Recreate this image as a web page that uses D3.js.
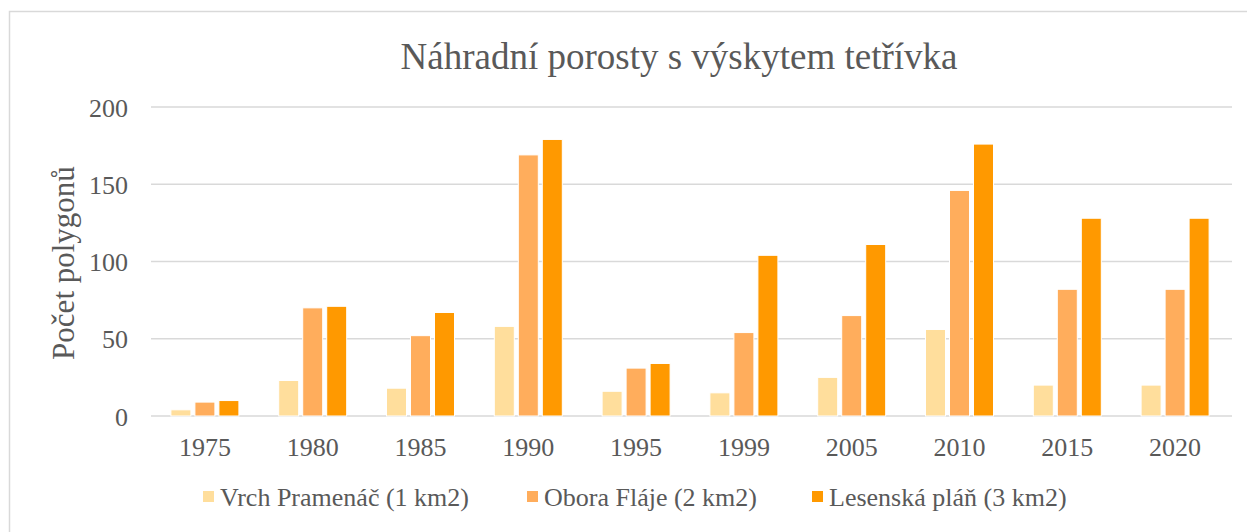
<!DOCTYPE html>
<html>
<head>
<meta charset="utf-8">
<script src="https://cdn.jsdelivr.net/npm/d3@7"></script>
<style>
  html, body { margin: 0; padding: 0; background: #fff; }
  svg { display: block; font-family: "Liberation Serif", "Times New Roman", serif; }
</style>
</head>
<body>
<svg id="chart" width="1247" height="532"></svg>
<script>
// Sledované roky
const years = ["1975", "1980", "1985", "1990", "1995", "1999", "2005", "2010", "2015", "2020"];

// Řady (lokality)
const seriesNames = ["Vrch Pramenáč (1 km2)", "Obora Fláje (2 km2)", "Lesenská pláň (3 km2)"];
const vrchPramenac = [4, 23, 18, 58, 16, 15, 25, 56, 20, 20];
const oboraFlaje   = [9, 70, 52, 169, 31, 54, 65, 146, 82, 82];
const lesenskaPlan = [10, 71, 67, 179, 34, 104, 111, 176, 128, 128];
const seriesValues = [vrchPramenac, oboraFlaje, lesenskaPlan];

const yTicks = [0, 50, 100, 150, 200];
const colors = ["#FFDE9C", "#FFAD5C", "#FF9900"];

const svg = d3.select("#chart");
const textColor = "#595959";

// Rámeček grafu
svg.append("rect")
  .attr("x", 9.5).attr("y", 11.5)
  .attr("width", 1400).attr("height", 600)
  .attr("fill", "none").attr("stroke", "#D9D9D9").attr("stroke-width", 1.5);

// Titulek
svg.append("text")
  .attr("x", 679).attr("y", 69)
  .attr("text-anchor", "middle")
  .attr("font-size", 37)
  .attr("fill", textColor)
  .text("Náhradní porosty s výskytem tetřívka");

const plotLeft = 151, plotRight = 1229;
const x0 = d3.scaleBand().domain(years).range([plotLeft, plotRight]).padding(0);
const x1 = d3.scaleBand().domain(seriesNames).range([-36, 36]);
const y = d3.scaleLinear().domain([0, 200]).range([416, 107]);

// Mřížka
svg.append("g")
  .selectAll("line")
  .data(yTicks)
  .join("line")
  .attr("x1", plotLeft).attr("x2", 1232)
  .attr("y1", d => y(d)).attr("y2", d => y(d))
  .attr("stroke", "#D9D9D9").attr("stroke-width", 1.5);

// Osa Y
const yAxis = d3.axisLeft(y).tickValues(yTicks).tickSize(0).tickPadding(0);
const gy = svg.append("g").attr("transform", "translate(128,0)").call(yAxis);
gy.select(".domain").remove();
gy.selectAll("text")
  .attr("font-family", "Liberation Serif, Times New Roman, serif")
  .attr("font-size", 26).attr("fill", textColor)
  .attr("dy", "0.35em");

// Popisek osy Y
svg.append("text")
  .attr("transform", "translate(74,263) rotate(-90)")
  .attr("text-anchor", "middle")
  .attr("font-size", 31)
  .attr("fill", textColor)
  .text("Počet polygonů");

// Osa X
const xAxis = d3.axisBottom(x0).tickSize(0).tickPadding(0);
const gx = svg.append("g").attr("transform", "translate(0,438)").call(xAxis);
gx.select(".domain").remove();
gx.selectAll("text")
  .attr("font-family", "Liberation Serif, Times New Roman, serif")
  .attr("font-size", 26).attr("fill", textColor)
  .attr("dy", "0.71em").attr("y", 0);

// Sloupce
const groups = svg.append("g")
  .selectAll("g")
  .data(years)
  .join("g")
  .attr("transform", d => `translate(${x0(d) + x0.bandwidth() / 2},0)`);

groups.selectAll("rect")
  .data((d, i) => seriesNames.map((s, k) => ({ s, k, v: seriesValues[k][i] })))
  .join("rect")
  .attr("x", d => x1(d.s) + 2)
  .attr("width", x1.bandwidth() - 4)
  .attr("y", d => y(d.v))
  .attr("height", d => y(0) - y(d.v))
  .attr("fill", d => colors[d.k])
  .attr("stroke", "#fff").attr("stroke-width", 1);

// Legenda
const legendX = [203, 527, 812];
const legend = svg.append("g")
  .selectAll("g")
  .data(seriesNames)
  .join("g")
  .attr("transform", (d, i) => `translate(${legendX[i]},497)`);
legend.append("rect")
  .attr("x", 0).attr("y", -6).attr("width", 11).attr("height", 11)
  .attr("fill", (d, i) => colors[i]);
legend.append("text")
  .attr("x", 17).attr("y", 9)
  .attr("font-size", 26).attr("fill", textColor)
  .text(d => d);
</script>
</body>
</html>
